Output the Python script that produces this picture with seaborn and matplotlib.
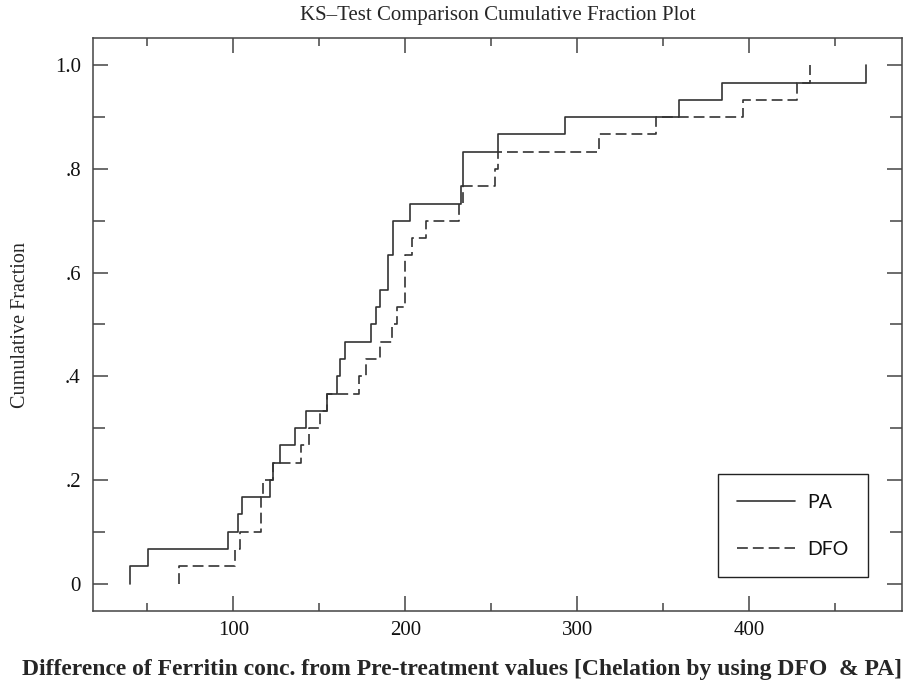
import numpy as np
import pandas as pd
import seaborn as sns
import matplotlib.pyplot as plt
from matplotlib.ticker import MultipleLocator, FixedLocator

# values (30 samples each)
pa_values = [40, 50.6, 97, 103, 105, 121.3, 123, 127, 136, 142,
             154.3, 160, 162, 165, 180, 183, 185.3, 190, 190, 193,
             193, 203, 232.3, 233.3, 233.3, 254, 293, 359, 384, 468]
dfo_values = [68.6, 101, 104, 116, 116, 117.4, 123.3, 139.2, 144.2, 150.4,
              154.3, 173, 177.2, 185.3, 192.1, 195, 199.8, 199.8, 199.8, 204,
              212, 231, 233.3, 252.1, 254.1, 312.6, 345.7, 396.5, 428, 435.3]

x_ticks = [100, 200, 300, 400]
y_ticks = [0, 0.2, 0.4, 0.6, 0.8, 1.0]
y_tick_labels = ["0", ".2", ".4", ".6", ".8", "1.0"]

df = pd.concat([
    pd.DataFrame({"value": pa_values, "group": "PA"}),
    pd.DataFrame({"value": dfo_values, "group": "DFO"}),
], ignore_index=True)

sns.set_theme(style="ticks")
plt.rcParams["font.family"] = ["Liberation Serif", "DejaVu Serif"]
plt.rcParams["axes.edgecolor"] = "#444444"
plt.rcParams["axes.linewidth"] = 1.1

fig = plt.figure(figsize=(9.22, 6.85), dpi=100)
ax = fig.add_axes([0.1012, 0.108, 0.8768, 0.836])

line_color = "#333333"
sns.ecdfplot(data=df[df.group == "PA"], x="value", ax=ax,
             color=line_color, linewidth=1.2, label="PA")
sns.ecdfplot(data=df[df.group == "DFO"], x="value", ax=ax,
             color=line_color, linewidth=1.2, linestyle=(0, (6.5, 3)), label="DFO")

# start each curve with a vertical rise at its first value (no line along y=0)
for ln in ax.lines:
    xd = np.asarray(ln.get_xdata(), dtype=float)
    xd[0] = xd[1]
    ln.set_xdata(xd)

ax.set_xlim(18.6, 488.6)
ax.set_ylim(-0.053, 1.052)
ax.xaxis.set_major_locator(FixedLocator(x_ticks))
ax.xaxis.set_minor_locator(MultipleLocator(50))
ax.set_yticks(y_ticks)
ax.set_yticklabels(y_tick_labels)
ax.yaxis.set_minor_locator(MultipleLocator(0.1))

ax.tick_params(which="both", direction="in", top=True, right=True,
               color="#444444", width=1.1, labelsize=15, labelcolor="#111111")
ax.tick_params(axis="x", which="major", length=11, pad=7)
ax.tick_params(axis="x", which="minor", length=5.5)
ax.tick_params(axis="y", which="major", length=11, pad=9)
ax.tick_params(axis="y", which="minor", length=8.5)

ax.set_title("KS\u2013Test Comparison Cumulative Fraction Plot", fontsize=15, pad=13)
ax.set_xlabel("Difference of Ferritin conc. from Pre-treatment values [Chelation by using DFO  & PA]",
              fontsize=17, fontweight="bold")
ax.xaxis.set_label_coords(0.456, -0.083)
ax.set_ylabel("Cumulative Fraction", fontsize=14.5, labelpad=18)

leg = ax.legend(loc="lower right", bbox_to_anchor=(0.958, 0.059), borderaxespad=0,
                prop={"family": "Lato", "size": 14}, handlelength=3.0,
                labelspacing=1.55, borderpad=1.0, handletextpad=0.6,
                fancybox=False, framealpha=1, edgecolor="#222222")
leg.get_frame().set_linewidth(1.0)
for t in leg.get_texts():
    t.set_color("#111111")

fig.savefig("out.png", dpi=100)
